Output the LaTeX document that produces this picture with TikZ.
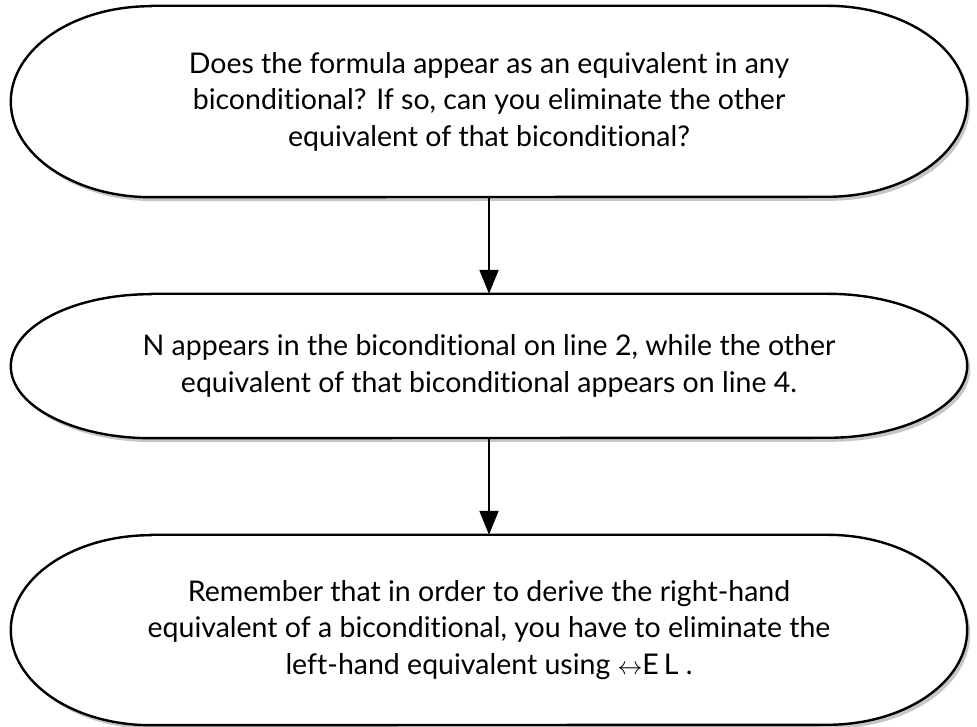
\documentclass[tikz,border=0pt]{standalone}
\usepackage{fontspec}
\setmainfont{Lato}[Ligatures={NoCommon}]
\newfontfamily\codefont[LetterSpace=18]{Lato}
\usetikzlibrary{arrows.meta,shadows,backgrounds}

\tikzset{
  question/.style={align=center, font=\fontsize{28.5}{36.5}\selectfont, minimum width=956pt, inner sep=0pt},
  capline/.style={draw=black, line width=2.4pt, fill=white,
    drop shadow={shadow xshift=3pt, shadow yshift=-4pt, opacity=0.45}},
  step arrow/.style={-{Triangle[length=24pt,width=19pt]}, line width=2pt}
}

% one capsule outline round a node: #1 node, #2 half height
\newcommand{\capsule}[2]{%
  \path[capline] ([xshift=140pt]#1.north west) -- ([xshift=-140pt]#1.north east)
    arc[start angle=90, end angle=-90, x radius=140pt, y radius=#2pt]
    -- ([xshift=140pt]#1.south west)
    arc[start angle=270, end angle=90, x radius=140pt, y radius=#2pt] -- cycle;}

\begin{document}
\begin{tikzpicture}[x=1pt, y=1pt]
  \useasboundingbox (0,0) rectangle (977,727);

  \node[question, minimum height=191pt] (ask) at (489,625.5)
    {Does the formula appear as an equivalent in any\\
     biconditional? If so, can you eliminate the other\\
     equivalent of that biconditional?};
  \node[question, minimum height=144pt] (found) at (489,361)
    {N appears in the biconditional on line 2, while the other\\
     equivalent of that biconditional appears on line 4.};
  \node[question, minimum height=190pt] (hint) at (489,97)
    {Remember that in order to derive the right-hand\\
     equivalent of a biconditional, you have to eliminate the\\
     left-hand equivalent using $\leftrightarrow${\codefont EL}\hspace{0.25em}.};

  \begin{scope}[on background layer]
    \capsule{ask}{95.5}
    \capsule{found}{72}
    \capsule{hint}{95}
  \end{scope}

  \draw[step arrow] (ask.south) -- (found.north);
  \draw[step arrow] (found.south) -- (hint.north);
\end{tikzpicture}
\end{document}
